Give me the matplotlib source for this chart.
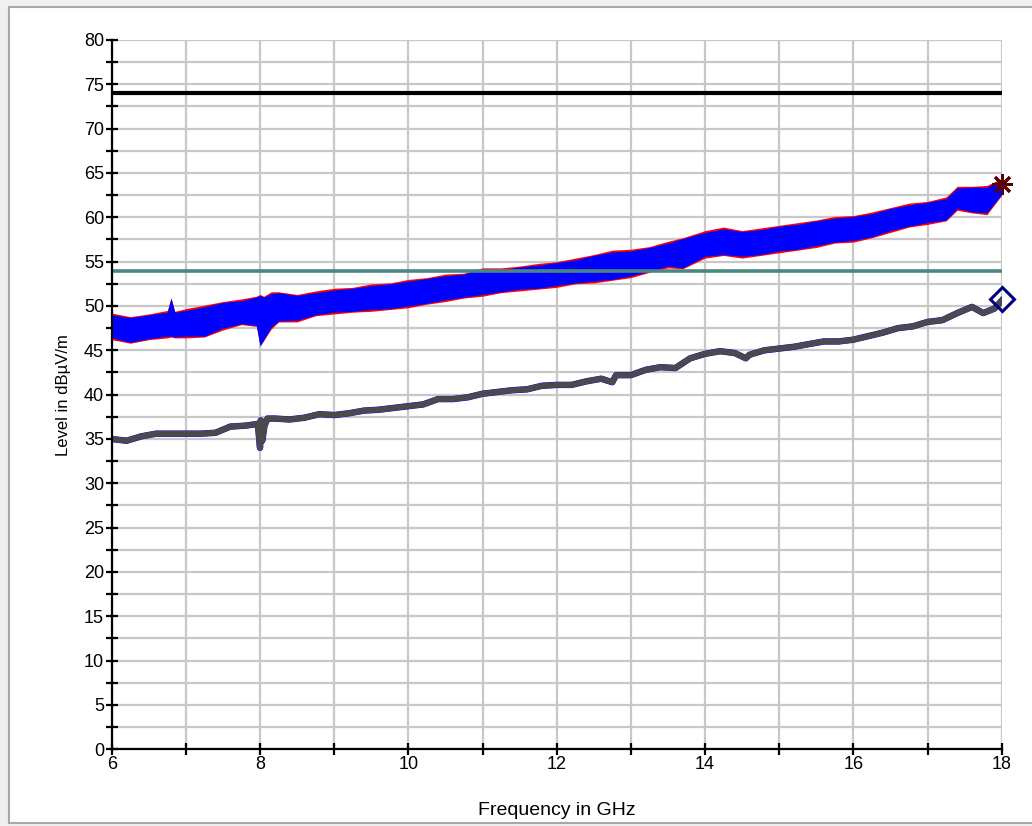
import matplotlib
matplotlib.use("Agg")
import matplotlib.pyplot as plt
from matplotlib.patches import Rectangle
from matplotlib.ticker import MultipleLocator

plt.rcParams["font.family"] = ["Liberation Sans", "DejaVu Sans"]

# Peak trace envelope (GHz, dBuV/m)
freq_pk = [6.0, 6.25, 6.5, 6.75, 6.8, 6.85, 7.0, 7.25, 7.5, 7.75, 7.95, 8.0, 8.05,
           8.15, 8.25, 8.5, 8.75, 9.0, 9.25, 9.5, 9.75, 10.0, 10.25, 10.5, 10.75,
           11.0, 11.25, 11.5, 11.75, 12.0, 12.25, 12.5, 12.75, 13.0, 13.25, 13.5,
           13.7, 14.0, 14.25, 14.5, 14.75, 15.0, 15.25, 15.5, 15.75, 16.0, 16.25,
           16.5, 16.75, 17.0, 17.25, 17.4, 17.6, 17.8, 18.0]
blue_top = [49.0, 48.7, 49.0, 49.3, 50.9, 49.3, 49.5, 49.9, 50.4, 50.6, 51.0, 51.2, 51.0,
            51.4, 51.5, 51.2, 51.5, 51.8, 52.0, 52.3, 52.5, 52.8, 53.1, 53.4, 53.6,
            54.2, 54.1, 54.4, 54.6, 54.9, 55.2, 55.7, 56.1, 56.2, 56.6, 57.1,
            57.6, 58.3, 58.7, 58.4, 58.6, 59.0, 59.2, 59.6, 59.9, 60.1, 60.4,
            61.0, 61.4, 61.7, 62.1, 63.3, 63.4, 63.4, 64.3]
blue_bot = [46.4, 45.9, 46.3, 46.6, 46.6, 46.5, 46.6, 46.6, 47.5, 48.0, 47.8, 45.5, 46.2,
            47.6, 48.3, 48.4, 49.0, 49.3, 49.4, 49.6, 49.7, 50.0, 50.3, 50.7, 51.0,
            51.3, 51.6, 51.9, 52.0, 52.3, 52.6, 52.8, 53.0, 53.4, 53.9, 54.5,
            54.3, 55.6, 55.8, 55.6, 55.8, 56.2, 56.4, 56.8, 57.2, 57.4, 57.8,
            58.5, 59.0, 59.4, 59.7, 61.0, 60.6, 60.5, 62.6]
red_top = [49.2, 48.8, 49.1, 49.5, 50.9, 49.4, 49.7, 50.1, 50.5, 50.8, 51.1, 51.3, 51.1,
           51.6, 51.6, 51.3, 51.7, 52.0, 52.1, 52.5, 52.6, 53.0, 53.2, 53.6, 53.7,
           54.3, 54.3, 54.5, 54.8, 55.0, 55.4, 55.8, 56.3, 56.4, 56.7, 57.3,
           57.7, 58.5, 58.9, 58.5, 58.8, 59.1, 59.4, 59.7, 60.1, 60.2, 60.6,
           61.1, 61.6, 61.8, 62.3, 63.5, 63.5, 63.6, 64.4]
red_bot = [46.2, 45.8, 46.2, 46.4, 46.5, 46.4, 46.4, 46.5, 47.3, 47.9, 47.7, 45.5, 46.1,
           47.4, 48.2, 48.2, 48.9, 49.1, 49.3, 49.4, 49.6, 49.8, 50.2, 50.5, 50.9,
           51.1, 51.5, 51.7, 51.9, 52.1, 52.5, 52.6, 52.9, 53.2, 53.8, 54.3,
           54.2, 55.4, 55.7, 55.4, 55.7, 56.0, 56.3, 56.6, 57.1, 57.2, 57.7,
           58.3, 58.9, 59.2, 59.6, 60.8, 60.5, 60.3, 62.5]

# Average trace
freq_av = [6.0, 6.2, 6.4, 6.6, 6.8, 7.0, 7.2, 7.4, 7.6, 7.8, 7.97, 8.0, 8.01, 8.03,
           8.06, 8.1, 8.2, 8.4, 8.6, 8.8, 9.0, 9.2, 9.4, 9.6, 9.8, 10.0, 10.2, 10.4,
           10.6, 10.8, 11.0, 11.2, 11.4, 11.6, 11.8, 12.0, 12.2, 12.4, 12.6, 12.75,
           12.8, 13.0, 13.2, 13.4, 13.6, 13.8, 14.0, 14.2, 14.4, 14.55, 14.6, 14.8,
           15.0, 15.2, 15.4, 15.6, 15.8, 16.0, 16.2, 16.4, 16.6, 16.8, 17.0, 17.2,
           17.4, 17.6, 17.75, 17.9, 18.0]
avg = [35.0, 34.8, 35.3, 35.6, 35.6, 35.6, 35.6, 35.7, 36.4, 36.5, 36.7, 34.0, 37.1, 34.8,
       36.5, 37.3, 37.3, 37.2, 37.4, 37.8, 37.7, 37.9, 38.2, 38.3, 38.5, 38.7, 38.9, 39.5,
       39.5, 39.7, 40.1, 40.3, 40.5, 40.6, 41.0, 41.1, 41.1, 41.5, 41.8, 41.4,
       42.2, 42.2, 42.8, 43.1, 43.0, 44.1, 44.6, 44.9, 44.7, 44.1, 44.5, 45.0,
       45.2, 45.4, 45.7, 46.0, 46.0, 46.2, 46.6, 47.0, 47.5, 47.7, 48.2, 48.4,
       49.2, 49.9, 49.2, 49.7, 50.6]

limit_qp = 74
limit_av = 54
peak_marker = (18, 63.8)
avg_marker = (18, 50.8)

fig = plt.figure(figsize=(10.32, 8.26), dpi=100, facecolor="#f0f0f0")
fig.patches.append(Rectangle((9 / 1032, 3 / 826), 1.1, 1 - 10 / 826,
                             transform=fig.transFigure, facecolor="white",
                             edgecolor="#a8a8a8", lw=1.5, zorder=-10))
ax = fig.add_axes([111.7 / 1032, 1 - 749.3 / 826, 890 / 1032, 709.3 / 826])
ax.set_facecolor("white")

ax.fill_between(freq_pk, red_bot, red_top, color="#ff0000", lw=0, zorder=3)
ax.fill_between(freq_pk, blue_bot, blue_top, color="#0000ff", lw=0, zorder=4)
ax.plot(freq_av, avg, color="#0000ff", lw=4.6, zorder=4.5)
ax.plot(freq_av, avg, color="#4a4a4a", lw=4.2, zorder=5)

ax.axhline(limit_qp, color="black", lw=3, zorder=6)
ax.axhline(limit_av, color="#4a8783", lw=2.6, zorder=6)

ax.plot(*peak_marker, marker=(8, 2, 0), ms=15, mew=2, color="#5a0000", zorder=8, clip_on=False)
ax.plot(*avg_marker, marker="D", ms=12, mew=2.2, mfc="none", mec="#000080", zorder=8,
        clip_on=False)

ax.set_xlim(6, 18)
ax.set_ylim(0, 80)
ax.xaxis.set_major_locator(MultipleLocator(2))
ax.xaxis.set_minor_locator(MultipleLocator(1))
ax.yaxis.set_major_locator(MultipleLocator(5))
ax.yaxis.set_minor_locator(MultipleLocator(2.5))
ax.grid(which="both", color="#c8c8c8", lw=1.6, zorder=0)
ax.set_axisbelow(True)

for s in ["top", "right"]:
    ax.spines[s].set_visible(False)
for s in ["left", "bottom"]:
    ax.spines[s].set_linewidth(1.6)
    ax.spines[s].set_zorder(7)
ax.tick_params(which="both", direction="inout", length=8, width=1.6, labelsize=13,
               pad=1.5)
ax.tick_params(axis="x", pad=0.5)

ax.set_xlabel("Frequency in GHz", fontsize=14, labelpad=21)
ax.set_ylabel("Level in dBµV/m", fontsize=12, labelpad=9)

fig.savefig("out.png", dpi=100, facecolor=fig.get_facecolor())
